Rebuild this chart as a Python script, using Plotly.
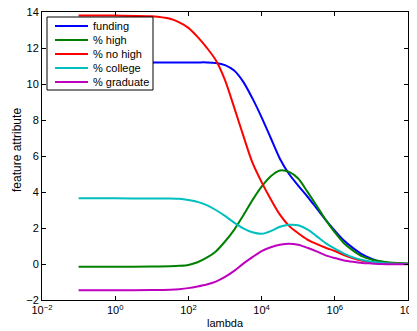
import plotly.graph_objects as go

# log10(lambda) grid
log_lambda = [-1, 0, 1, 1.5, 1.75, 2, 2.25, 2.5, 2.75, 3, 3.25, 3.5, 3.75, 4, 4.25, 4.5,
              4.75, 5, 5.25, 5.5, 5.75, 6, 6.25, 6.5, 6.75, 7, 7.25, 7.5, 7.75, 8]
lambdas = [10 ** v for v in log_lambda]

funding = [11.2, 11.2, 11.2, 11.2, 11.2, 11.2, 11.2, 11.2, 11.17, 11.05, 10.75, 10.12,
           9.2, 8.15, 7.0, 5.85, 5.0, 4.36, 3.75, 3.1, 2.45, 1.85, 1.3, 0.88, 0.53,
           0.3, 0.13, 0.06, 0.03, 0.02]
pct_high = [-0.15, -0.15, -0.14, -0.12, -0.1, -0.05, 0.1, 0.35, 0.7, 1.25, 1.9, 2.7,
            3.55, 4.3, 4.88, 5.2, 5.12, 4.75, 4.02, 3.25, 2.45, 1.76, 1.15, 0.74, 0.42,
            0.25, 0.15, 0.08, 0.05, 0.03]
pct_no_high = [13.8, 13.8, 13.76, 13.62, 13.42, 13.12, 12.62, 12.02, 11.32, 10.22, 8.7,
               7.13, 5.63, 4.55, 3.6, 2.74, 2.12, 1.71, 1.36, 1.12, 0.9, 0.72, 0.5, 0.32,
               0.18, 0.09, 0.04, 0.02, 0.01, 0.0]
pct_college = [3.65, 3.65, 3.64, 3.64, 3.62, 3.55, 3.45, 3.27, 3.0, 2.67, 2.3, 1.98,
               1.76, 1.68, 1.83, 2.07, 2.18, 2.15, 1.92, 1.55, 1.16, 0.85, 0.58, 0.37,
               0.22, 0.13, 0.07, 0.03, 0.01, 0.0]
pct_graduate = [-1.46, -1.46, -1.45, -1.43, -1.4, -1.34, -1.25, -1.14, -0.98, -0.72,
                -0.38, 0.02, 0.38, 0.72, 0.93, 1.07, 1.13, 1.07, 0.9, 0.7, 0.48, 0.33,
                0.2, 0.12, 0.06, 0.03, 0.0, -0.01, -0.02, -0.02]

series_names = ["funding", "% high", "% no high", "% college", "% graduate"]
series_values = [funding, pct_high, pct_no_high, pct_college, pct_graduate]
series_colors = ["#0000FF", "#008000", "#FF0000", "#00BFBF", "#BF00BF"]

x_tickvals = [1e-2, 1e0, 1e2, 1e4, 1e6, 1e8]
x_ticktext = ["10<sup>\u22122</sup>", "10<sup>0</sup>", "10<sup>2</sup>",
              "10<sup>4</sup>", "10<sup>6</sup>", "10<sup>8</sup>"]
y_tickvals = [-2, 0, 2, 4, 6, 8, 10, 12, 14]

FONT = "Liberation Sans, Arial, Helvetica, sans-serif"

# page body has an 8px default margin; size the figure so the plot box lands
# at window pixels x 42..408, y 12..300
OFF = 8
W, H = 409, 323
ML, MR, MT, MB = 34, 9, 4, 31
PW, PH = W - ML - MR, H - MT - MB


def px_x(p):
    return (p - OFF - ML) / PW


def px_y(p):
    return (OFF + H - MB - p) / PH


fig = go.Figure()
for name, vals, col in zip(series_names, series_values, series_colors):
    fig.add_trace(go.Scatter(
        x=lambdas, y=vals, name=name, mode="lines",
        line=dict(color=col, width=2, shape="spline", smoothing=0.8),
        showlegend=False,
    ))

# Legend box drawn MATLAB-style (compact rows)
shapes = [dict(type="rect", xref="paper", yref="paper",
               x0=px_x(47), x1=px_x(153), y0=px_y(90), y1=px_y(17),
               line=dict(color="black", width=1), fillcolor="white", layer="above")]
annotations = []
row_y = [26, 40, 54, 68, 82]
for name, col, ry in zip(series_names, series_colors, row_y):
    shapes.append(dict(type="line", xref="paper", yref="paper",
                       x0=px_x(55), x1=px_x(88), y0=px_y(ry), y1=px_y(ry),
                       line=dict(color=col, width=2), layer="above"))
    annotations.append(dict(text=name, xref="paper", yref="paper",
                            x=px_x(91), y=px_y(ry), xanchor="left", yanchor="middle",
                            showarrow=False, font=dict(family=FONT, size=11, color="black")))

annotations.append(dict(text="lambda", xref="paper", yref="paper",
                        x=0.5, y=px_y(323), xanchor="center", yanchor="middle",
                        showarrow=False, font=dict(family=FONT, size=11, color="black")))
annotations.append(dict(text="feature attribute", xref="paper", yref="paper",
                        x=px_x(17), y=px_y(150), xanchor="center", yanchor="middle",
                        textangle=-90, showarrow=False,
                        font=dict(family=FONT, size=12, color="black")))

axis_common = dict(
    showgrid=False, zeroline=False, showline=True, linecolor="black", linewidth=1,
    mirror="ticks", ticks="inside", ticklen=4, tickcolor="black", tickwidth=1,
    tickfont=dict(family=FONT, size=11, color="black"), automargin=False,
    ticklabeloverflow="allow",
)

fig.update_layout(
    width=W, height=H,
    margin=dict(l=ML, r=MR, t=MT, b=MB, autoexpand=False),
    paper_bgcolor="white", plot_bgcolor="white",
    font=dict(family=FONT, size=11, color="black"),
    showlegend=False,
    shapes=shapes,
    annotations=annotations,
    xaxis=dict(type="log", range=[-2, 8], tickvals=x_tickvals, ticktext=x_ticktext,
               **axis_common),
    yaxis=dict(range=[-2, 14], tickvals=y_tickvals, **axis_common),
)

fig.write_html("out.html")
